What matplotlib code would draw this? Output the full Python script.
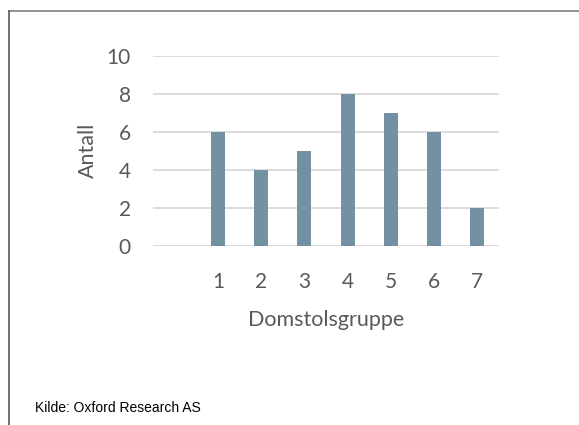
import matplotlib.pyplot as plt
from matplotlib.lines import Line2D

groups = ["", "1", "2", "3", "4", "5", "6", "7"]
antall = [0, 6, 4, 5, 8, 7, 6, 2]
yticks = [0, 2, 4, 6, 8, 10]

text_col = "#595959"
bar_col = "#7490a3"
grid_col = "#d9d9d9"

fig = plt.figure(figsize=(5.79, 4.25), dpi=100)
ax = fig.add_axes([0.2642, 0.4212, 0.5976, 0.4477])

x = range(len(groups))
ax.bar(x, antall, width=0.32, color=bar_col, zorder=3)

ax.set_xlim(-0.5, len(groups) - 0.5)
ax.set_ylim(0, 10)
ax.set_yticks(yticks)
ax.set_xticks(list(x))
ax.set_xticklabels(groups)
ax.grid(axis="y", color=grid_col, linewidth=1.3, zorder=0)
for s in ax.spines.values():
    s.set_visible(False)
ax.tick_params(length=0, labelsize=15, labelcolor=text_col, labelfontfamily="Lato")
ax.tick_params(axis="x", pad=19)
ax.tick_params(axis="y", pad=16)

ax.set_xlabel("Domstolsgruppe", fontsize=15.5, color=text_col, family="Lato", labelpad=13)
ax.set_ylabel("Antall", fontsize=15.5, color=text_col, family="Lato", labelpad=6)

fig.text(35 / 579, 1 - 408 / 425, "Kilde: Oxford Research AS", fontsize=10,
         family=["Liberation Sans Narrow", "Liberation Sans"], color="#000000",
         va="center", ha="left")

# frame lines on top and left edges
fig.add_artist(Line2D([8.5 / 579, 1], [1 - 10.5 / 425] * 2, transform=fig.transFigure,
                      color="#7f7f7f", linewidth=1.2))
fig.add_artist(Line2D([8.5 / 579] * 2, [0, 1 - 10.5 / 425], transform=fig.transFigure,
                      color="#595959", linewidth=1.2))

fig.savefig("out.png", dpi=100)
